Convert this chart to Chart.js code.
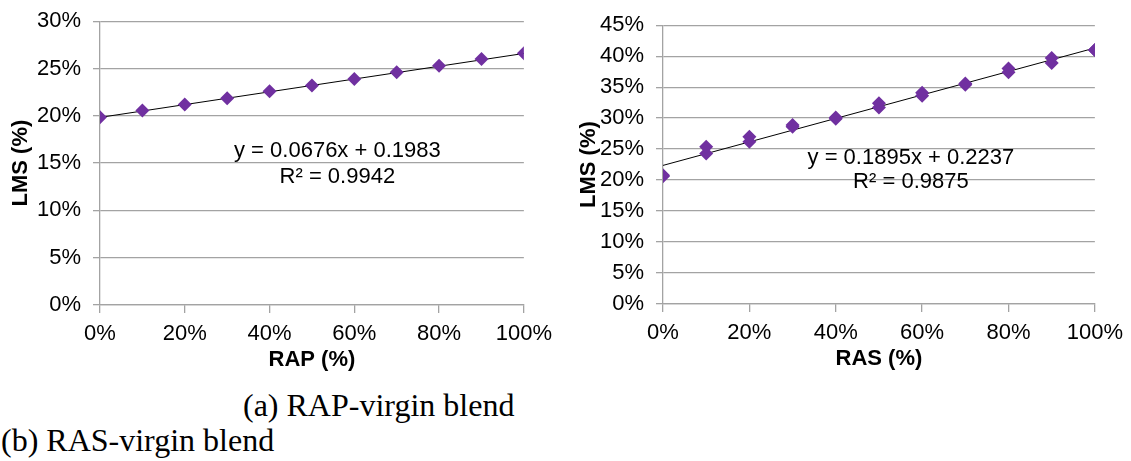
<!DOCTYPE html>
<html>
<head>
<meta charset="utf-8">
<script src="https://cdn.jsdelivr.net/npm/chart.js@4.4.1/dist/chart.umd.min.js"></script>
<style>
  body { margin: 0; background: #fff; width: 1131px; height: 461px; overflow: hidden; position: relative; }
  #leftBox { position: absolute; left: 0; top: -4px; width: 560px; height: 384px; }
  #rightBox { position: absolute; left: 560px; top: 0; width: 571px; height: 380px; }
  .cap { position: absolute; font-family: "Liberation Serif", "Times New Roman", serif; font-size: 32px; line-height: 36px; color: #000; white-space: nowrap; }
  #capA { left: 243px; top: 387px; }
  #capB { left: 1px; top: 422px; }
</style>
</head>
<body>
<div id="leftBox"><canvas id="rapChart"></canvas></div>
<div id="rightBox"><canvas id="rasChart"></canvas></div>
<div class="cap" id="capA">(a) RAP-virgin blend</div>
<div class="cap" id="capB">(b) RAS-virgin blend</div>
<script>
// blend content (fraction of recycled material)
var blendX = [0, 0.1, 0.2, 0.3, 0.4, 0.5, 0.6, 0.7, 0.8, 0.9, 1.0];

// LMS for RAP blends
var rapLMS = [0.1985, 0.2055, 0.2120, 0.2186, 0.2260, 0.2320, 0.2390, 0.2460, 0.2530, 0.2600, 0.2660];

// LMS for RAS blends, two replicates
var rasLMS1 = [0.208, 0.254, 0.270, 0.289, 0.301, 0.324, 0.341, 0.356, 0.380, 0.397, 0.410];
var rasLMS2 = [0.206, 0.243, 0.262, 0.286, 0.299, 0.317, 0.336, 0.354, 0.374, 0.389, 0.410];

// trendline coefficients (as printed on the chart)
var rapFit = [0.0676, 0.1983];
var rasFit = [0.1895, 0.2237];
var rapR2 = "0.9942";
var rasR2 = "0.9875";

var gridGray = "#a3a3a3";
var purple = "#7030a0";
var fontFam = "'Liberation Sans', Arial, sans-serif";

function pts(ys) {
  return blendX.map(function(x, i) { return { x: x, y: ys[i] }; });
}
function fitLine(fit) {
  return [{ x: 0, y: fit[1] }, { x: 1, y: fit[0] + fit[1] }];
}
function pct(v) { return Math.round(v * 100) + "%"; }

// draws the equation text at data coordinates
var eqPlugin = {
  id: "eqText",
  afterDatasetsDraw: function(chart) {
    var o = chart.options.plugins.eqText;
    var ctx = chart.ctx;
    var xs = chart.scales.x, ys = chart.scales.y;
    ctx.save();
    ctx.font = "22px " + fontFam;
    ctx.fillStyle = "#000";
    ctx.textAlign = "center";
    ctx.textBaseline = "middle";
    ctx.fillText(o.line1, xs.getPixelForValue(o.x), ys.getPixelForValue(o.y1));
    ctx.fillText(o.line2, xs.getPixelForValue(o.x), ys.getPixelForValue(o.y2));
    ctx.restore();
  }
};

function makeChart(id, sets, fit, r2, yMax, xTitle, pad, eqPos) {
  var datasets = sets.map(function(s) {
    return {
      type: "scatter",
      data: pts(s),
      pointStyle: "rectRot",
      pointRadius: 7,
      backgroundColor: purple,
      borderColor: purple,
      borderWidth: 0
    };
  });
  datasets.push({
    type: "line",
    data: fitLine(fit),
    borderColor: "#000",
    borderWidth: 1,
    pointRadius: 0,
    fill: false
  });
  return new Chart(document.getElementById(id), {
    type: "scatter",
    data: { datasets: datasets },
    options: {
      responsive: true,
      maintainAspectRatio: false,
      animation: false,
      layout: { padding: pad },
      plugins: {
        legend: { display: false },
        tooltip: { enabled: false },
        eqText: {
          x: eqPos[0], y1: eqPos[1], y2: eqPos[2],
          line1: "y = " + fit[0] + "x + " + fit[1],
          line2: "R\u00b2 = " + r2
        }
      },
      scales: {
        x: {
          type: "linear",
          min: 0, max: 1,
          afterFit: function(s) { s.height = 70; },
          ticks: {
            stepSize: 0.2,
            callback: pct,
            color: "#000",
            padding: 8,
            maxRotation: 0,
            font: { family: fontFam, size: 22 }
          },
          grid: { drawOnChartArea: false, color: gridGray, lineWidth: 1.3, tickLength: 8 },
          border: { color: gridGray, width: 1.3 },
          title: {
            display: true,
            text: xTitle,
            color: "#000",
            padding: { top: 0, bottom: 2 },
            font: { family: fontFam, size: 22, weight: "bold" }
          }
        },
        y: {
          min: 0, max: yMax,
          afterFit: function(s) { s.width = pad.yw; },
          ticks: {
            stepSize: 0.05,
            callback: pct,
            color: "#000",
            padding: 12,
            font: { family: fontFam, size: 22 }
          },
          grid: { color: gridGray, lineWidth: 1.3, tickLength: 7 },
          border: { color: gridGray, width: 1.3 },
          title: {
            display: true,
            text: "LMS (%)",
            color: "#000",
            padding: { top: 4, bottom: 0 },
            font: { family: fontFam, size: 22, weight: "bold" }
          }
        }
      }
    },
    plugins: [eqPlugin]
  });
}

makeChart("rapChart", [rapLMS], rapFit, rapR2, 0.30, "RAP (%)",
  { left: 4, right: 34, top: 17, bottom: 5, yw: 96 }, [0.56, 0.163, 0.135]);
makeChart("rasChart", [rasLMS1, rasLMS2], rasFit, rasR2, 0.45, "RAS (%)",
  { left: 12, right: 34, top: 24, bottom: 6, yw: 91 }, [0.574, 0.236, 0.197]);
</script>
</body>
</html>
